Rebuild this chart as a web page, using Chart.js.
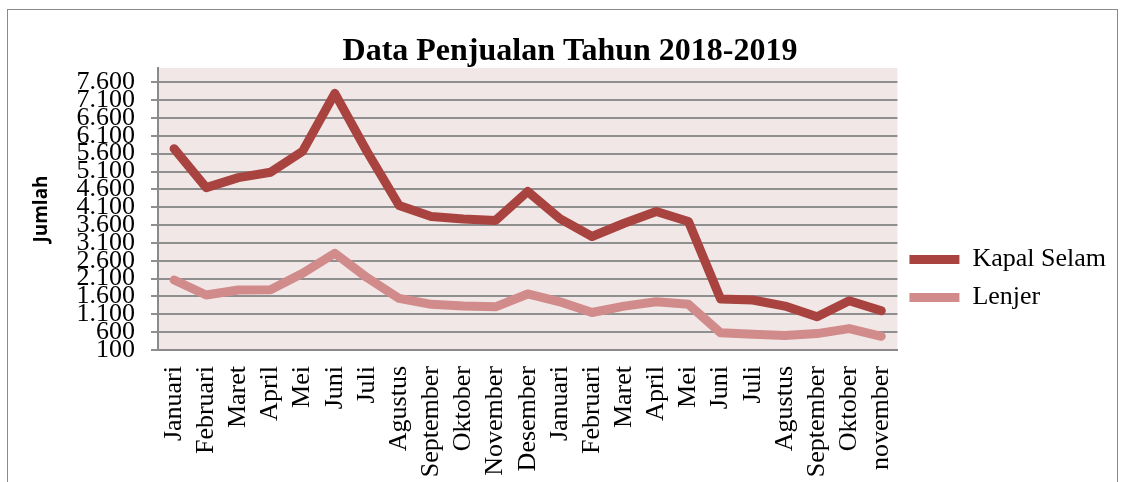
<!DOCTYPE html>
<html>
<head>
<meta charset="utf-8">
<script src="https://cdn.jsdelivr.net/npm/chart.js@4/dist/chart.umd.min.js"></script>
<style>
    html, body { margin: 0; padding: 0; background: #fff; overflow: hidden; }
    #wrap  { position: absolute; left: 0; top: 0; width: 1123px; height: 557px; }
    #frame { position: absolute; left: 7px; top: 9px; width: 1109px; height: 600px;
             border: 1px solid #8a8a8a; pointer-events: none; }
</style>
</head>
<body>
<div id="wrap"><canvas id="salesChart"></canvas></div>
<div id="frame"></div>
<script>
// data
const months = ["Januari", "Februari", "Maret", "April", "Mei", "Juni", "Juli", "Agustus",
    "September", "Oktober", "November", "Desember", "Januari", "Februari", "Maret", "April",
    "Mei", "Juni", "Juli", "Agustus", "September", "Oktober", "november"];
const kapalSelam = [5740, 4650, 4930, 5080, 5670, 7290, 5660, 4150, 3840, 3770, 3730, 4540,
    3780, 3280, 3650, 3980, 3700, 1530, 1500, 1330, 1030, 1480, 1200];
const lenjer = [2060, 1640, 1780, 1790, 2250, 2810, 2130, 1545, 1380, 1330, 1310, 1670,
    1450, 1150, 1330, 1450, 1380, 580, 540, 505, 560, 700, 485];
const yTicks = [100, 600, 1100, 1600, 2100, 2600, 3100, 3600, 4100, 4600, 5100, 5600, 6100, 6600, 7100, 7600];

const serif = "'Liberation Serif', 'Times New Roman', serif";

// plot area fill
const plotBg = {
    id: "plotBg",
    beforeDraw(chart) {
        const { ctx, chartArea: a } = chart;
        ctx.save();
        ctx.fillStyle = "#f2e7e7";
        ctx.fillRect(a.left, a.top, a.right - a.left, a.bottom - a.top);
        ctx.restore();
    },
};

const fmt = v => v.toLocaleString("de-DE");

new Chart(document.getElementById("salesChart"), {
    type: "line",
    data: {
        labels: months,
        datasets: [
            { label: "Kapal Selam", data: kapalSelam, borderColor: "#a9433f", backgroundColor: "#a9433f" },
            { label: "Lenjer",      data: lenjer,     borderColor: "#d08b8a", backgroundColor: "#d08b8a" },
        ].map(ds => ({
            ...ds,
            borderWidth: 9,
            borderCapStyle: "round",
            borderJoinStyle: "round",
            pointRadius: 0,
            tension: 0,
            fill: false,
        })),
    },
    options: {
        responsive: true,
        maintainAspectRatio: false,
        animation: false,
        layout: { padding: { left: 24, right: 7, top: 0, bottom: 0 } },
        scales: {
            x: {
                offset: true,
                grid: { display: false, drawTicks: false, offset: true },
                border: { display: true, color: "#8a8a8a", width: 2 },
                ticks: {
                    autoSkip: false, maxRotation: 90, minRotation: 90, padding: 16,
                    color: "#000", font: { family: serif, size: 26 },
                },
                afterFit(scale) { scale.height = 207; },
            },
            y: {
                min: 100,
                max: 8000,
                afterBuildTicks(scale) { scale.ticks = yTicks.map(v => ({ value: v })); },
                afterFit(scale) { scale.width = 134; },
                grid: { color: "#8f8f8f", lineWidth: 2, tickLength: 7, drawTicks: true },
                border: { display: true, color: "#8a8a8a", width: 2 },
                ticks: {
                    autoSkip: false, padding: 16, color: "#000",
                    font: { family: serif, size: 26 },
                    callback: v => fmt(v),
                },
                title: {
                    display: true, text: "Jumlah", color: "#000",
                    font: { family: "'Open Sans', 'Liberation Sans', sans-serif", size: 19, weight: "bold" },
                    padding: { top: 6, bottom: 0 },
                },
            },
        },
        plugins: {
            title: {
                display: true,
                text: "Data Penjualan Tahun 2018-2019",
                color: "#000",
                font: { family: serif, size: 32, weight: "bold", lineHeight: 1.0 },
                padding: { top: 36, bottom: 0 },
            },
            legend: {
                position: "right",
                labels: {
                    usePointStyle: true,
                    pointStyle: "line",
                    pointStyleWidth: 50,
                    padding: 12,
                    color: "#000",
                    font: { family: serif, size: 26 },
                },
            },
            tooltip: { enabled: false },
        },
    },
    plugins: [plotBg],
});
</script>
</body>
</html>
